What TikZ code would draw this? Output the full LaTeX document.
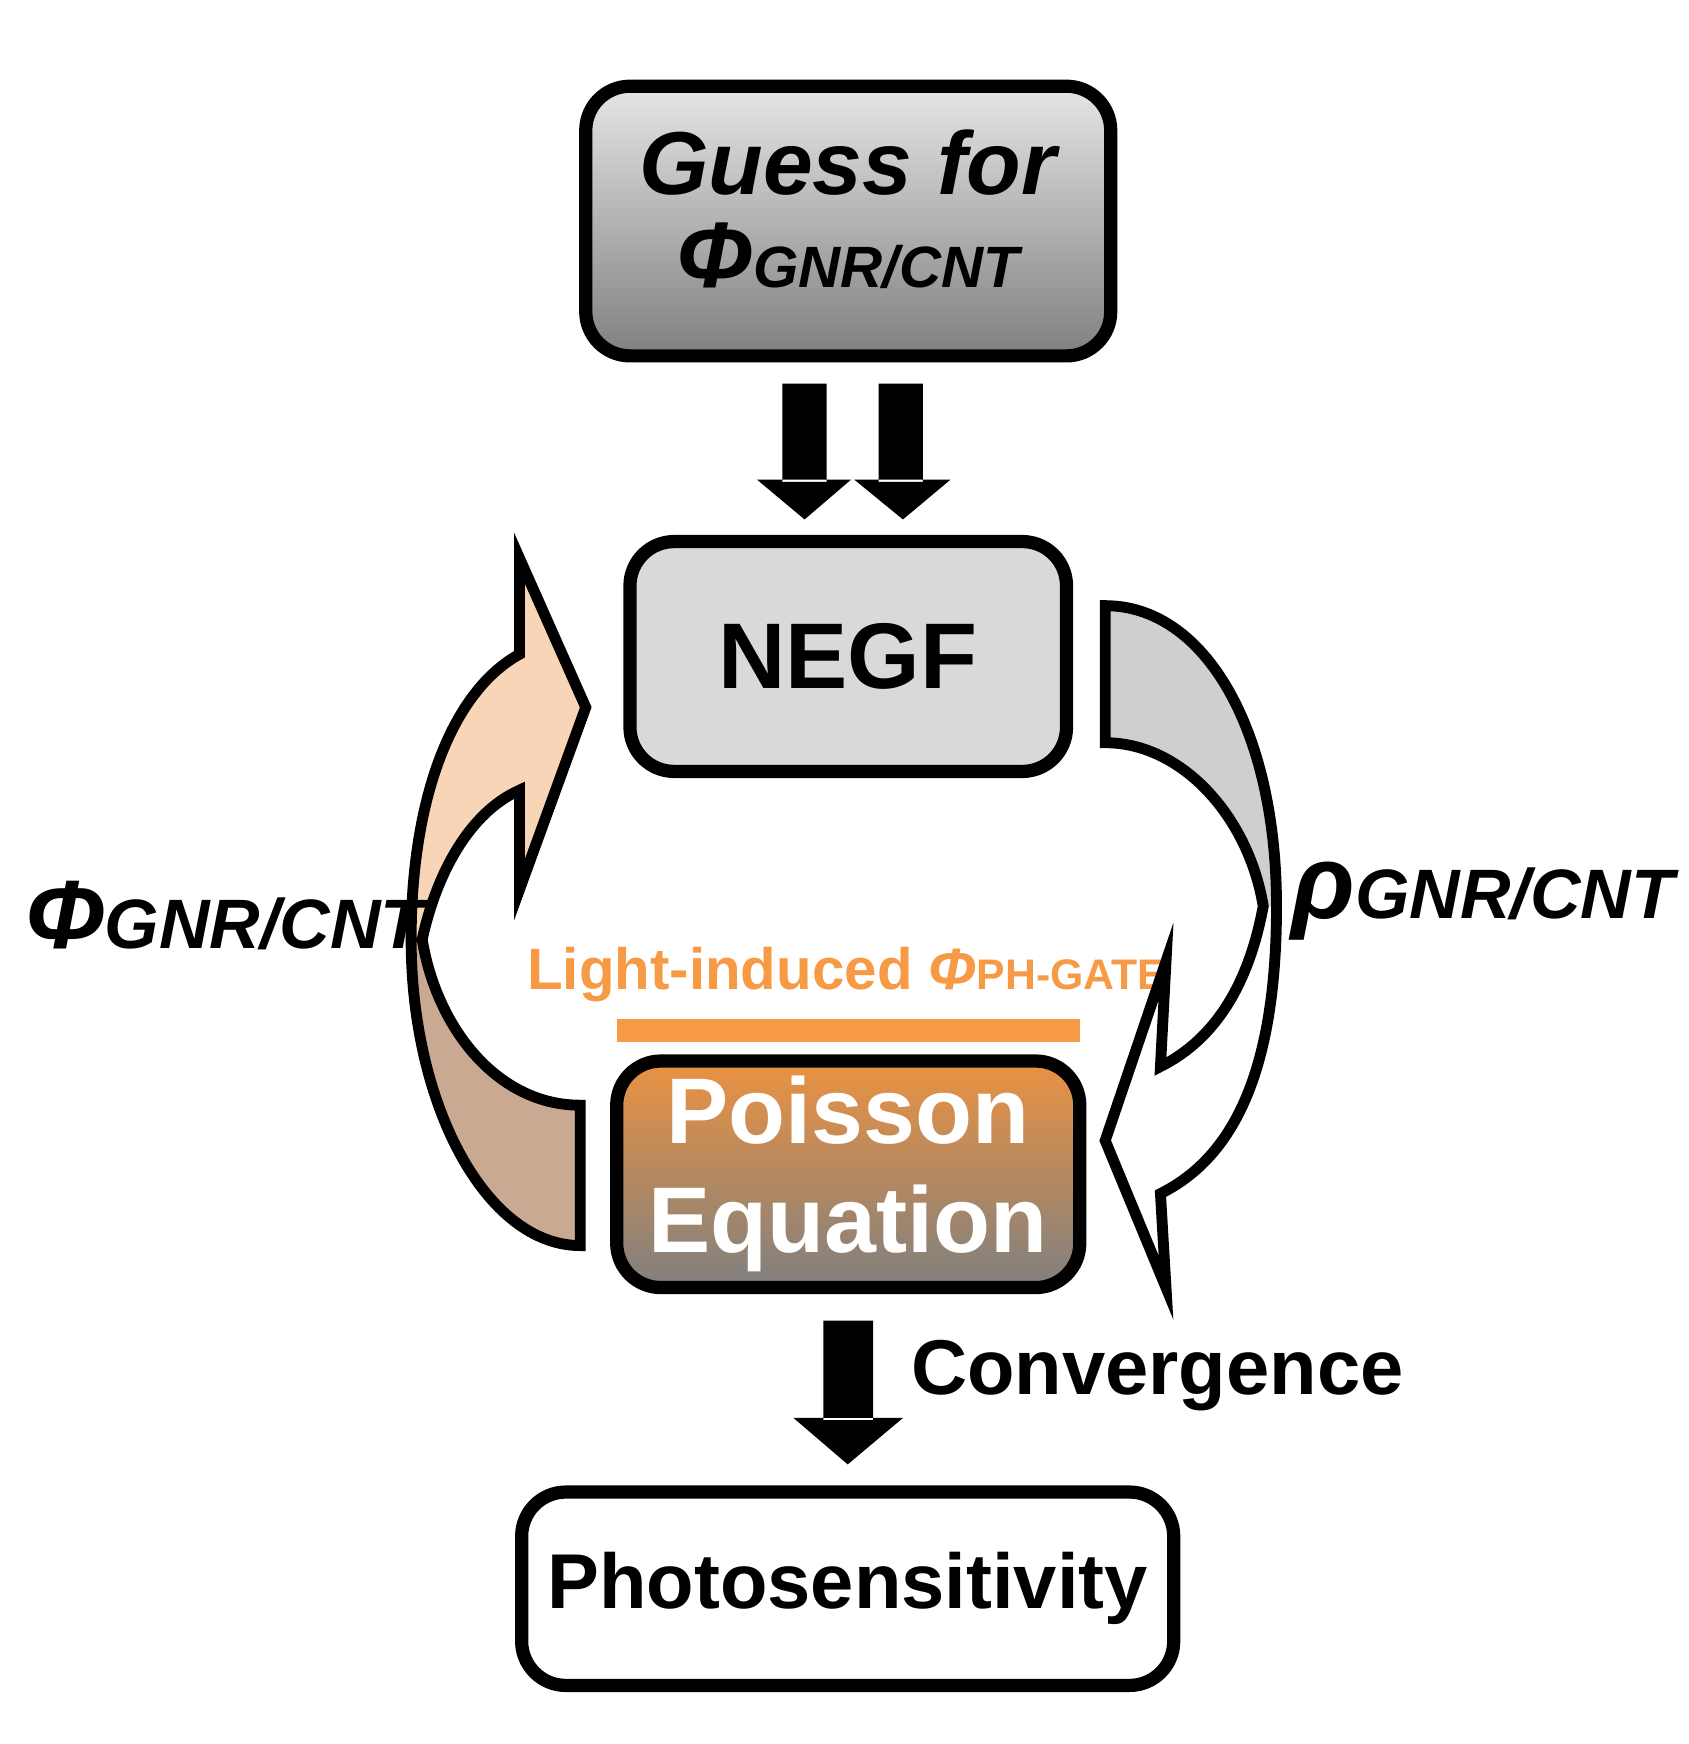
\documentclass[tikz,border=0pt]{standalone}
\usepackage{fontspec}
\setmainfont{Liberation Sans}
\begin{document}
\begin{tikzpicture}[x=0.01cm,y=-0.01cm,
  box/.style={draw=black,line width=3.4pt,rounded corners=0.4cm},
  band/.style={draw=black,line width=2.8pt,line join=miter},
  blk/.style={fill=black},
  lbl/.style={font=\bfseries\itshape,inner sep=0pt}]
\useasboundingbox (0,0) rectangle (1528,1578);
\definecolor{peach}{HTML}{F9D5B7}
\definecolor{tan}{HTML}{C9A991}
\definecolor{org}{HTML}{F79A45}
% boxes
\path[box,top color=black!10,bottom color=black!50] (530,78) rectangle (1005,322);
\node[lbl,font=\fontsize{23}{26}\bfseries\itshape] (guess) at (767,200) {\begin{tabular}{c}Guess for\\[-2pt] {\fontsize{24}{26}\selectfont Φ}{\fontsize{15}{18}\selectfont GNR/CNT}\end{tabular}};
\path[box,fill=black!15] (570,490) rectangle (965,698);
\node[font=\fontsize{24}{26}\bfseries] (negf) at (767,594) {NEGF};
\path[box,top color=org!95!black,bottom color=black!50] (558,960) rectangle (977,1165);
\node[font=\fontsize{24}{28}\bfseries,text=white,align=center] (poisson) at (767,1062) {Poisson\\Equation};
\path[box,fill=white] (472,1350) rectangle (1062,1525);
\node[font=\fontsize{20}{24}\bfseries] (photo) at (767,1437) {Photosensitivity};
% double arrows
\fill[blk] (708,347) rectangle (748,436) (685,434) -- (770,434) -- (728,470) -- cycle;
\fill[blk] (795,347) rectangle (835,436) (773,434) -- (860,434) -- (817,470) -- cycle;
% convergence arrow
\fill[blk] (745,1195) rectangle (790,1285) (718,1283) -- (817,1283) -- (767,1325) -- cycle;
\node[font=\fontsize{20}{24}\bfseries,anchor=west] (conv) at (812,1245) {Convergence};
% orange bar and label
\fill[org] (558,922) rectangle (977,943);
\node[font=\fontsize{15}{18}\bfseries,text=org] (light) at (766,882) {Light-induced {\itshape Φ}{\fontsize{11}{12}\selectfont PH-GATE}};
% right band
\fill[black!19] (1000,548) .. controls (1090,548) and (1155,660) .. (1155,820)
  -- (1143,820) .. controls (1130,740) and (1070,672) .. (1000,672) -- cycle;
\draw[band] (1000,672) -- (1000,548) .. controls (1090,548) and (1155,660) .. (1155,820)
  .. controls (1155,980) and (1110,1050) .. (1050,1080) -- (1055,1165) -- (1000,1032)
  -- (1055,870) -- (1050,965) .. controls (1100,940) and (1130,890) .. (1143,820)
  .. controls (1130,740) and (1070,672) .. (1000,672) -- cycle;
% left band
\fill[tan] (525,1127) .. controls (440,1127) and (372,1000) .. (372,850)
  -- (382,850) .. controls (395,930) and (450,1000) .. (525,1000) -- cycle;
\fill[peach] (372,850) .. controls (372,720) and (410,625) .. (470,592) -- (470,505) -- (530,640)
  -- (470,805) -- (470,715) .. controls (425,735) and (395,790) .. (382,850) -- cycle;
\draw[band] (525,1000) -- (525,1127) .. controls (440,1127) and (372,1000) .. (372,850)
  .. controls (372,720) and (410,625) .. (470,592) -- (470,505) -- (530,640)
  -- (470,805) -- (470,715) .. controls (425,735) and (395,790) .. (382,850)
  .. controls (395,930) and (450,1000) .. (525,1000) -- cycle;
% side labels
\node[lbl,anchor=west] (phil) at (22,828) {{\fontsize{25}{28}\selectfont Φ}{\fontsize{18}{20}\selectfont GNR/CNT}};
\node[lbl,anchor=west] (rhor) at (1168,815) {{\fontsize{27}{28}\selectfont ρ}{\fontsize{18}{20}\selectfont GNR/CNT}};
\end{tikzpicture}
\end{document}
